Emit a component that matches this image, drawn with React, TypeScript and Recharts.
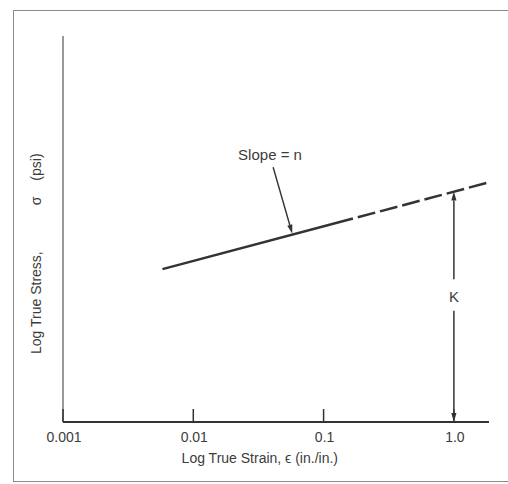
import React from 'react';
import { LineChart, Line, XAxis, YAxis, ReferenceLine, ReferenceDot, Label } from 'recharts';

// ---- data (log-log plot; stress axis in arbitrary log units 0..100) ----
const solidStrain = [0.0058, 0.168];
const solidStress = [39.6, 52.7];
const dashedStrain = [0.168, 1.86];
const dashedStress = [52.7, 62.1];
const xTicks = [0.001, 0.01, 0.1, 1];
const xTickLabels = ['0.001', '0.01', '0.1', '1.0'];
const xDomain = [0.001, 1.86];
const yDomain = [0, 100];

// annotation anchors (data coordinates)
const slopeArrowStrain = [0.041, 0.0575];
const slopeArrowStress = [66, 48.8];
const slopeLabelAt = { x: 0.0388, y: 69.2 };
const kStrain = 1;
const kUpperStress = [37.0, 59.7];
const kLowerStress = [28.8, 0];
const kLabelStress = 32.4;

const solidData = solidStrain.map((x, i) => ({ x, y: solidStress[i] }));
const dashedData = dashedStrain.map((x, i) => ({ x, y: dashedStress[i] }));

const FONT = '"Liberation Sans", Arial, Helvetica, sans-serif';
const INK = '#333';
const TEXT = '#3c3c3c';

const makeArrow = (headLen: number, headW: number, sw: number) => (props: any) => {
  const { x1, y1, x2, y2 } = props;
  const dx = x2 - x1;
  const dy = y2 - y1;
  const len = Math.hypot(dx, dy) || 1;
  const ux = dx / len;
  const uy = dy / len;
  const bx = x2 - ux * headLen;
  const by = y2 - uy * headLen;
  const px = -uy;
  const py = ux;
  return (
    <g>
      <line x1={x1} y1={y1} x2={bx} y2={by} stroke={INK} strokeWidth={sw} />
      <polygon
        points={`${x2},${y2} ${bx + px * headW},${by + py * headW} ${bx - px * headW},${by - py * headW}`}
        fill={INK}
      />
    </g>
  );
};

const XTick = (props: any) => {
  const { x, y, payload } = props;
  const idx = xTicks.indexOf(payload.value);
  const label = idx >= 0 ? xTickLabels[idx] : String(payload.value);
  return (
    <g>
      <line x1={x} y1={y} x2={x} y2={y - 13} stroke={INK} strokeWidth={1.5} />
      <text x={x + 1} y={y + 20} textAnchor="middle" fontFamily={FONT} fontSize={14} fill={TEXT}>
        {label}
      </text>
    </g>
  );
};

const XTitle = (props: any) => {
  const vb = props.viewBox || { x: 63, y: 422, width: 426, height: 40 };
  return (
    <text x={vb.x + vb.width * 0.462} y={vb.y + 41} textAnchor="middle" fontFamily={FONT} fontSize={14} fill={TEXT}>
      Log True Strain, ϵ (in./in.)
    </text>
  );
};

const YTitle = (props: any) => {
  const vb = props.viewBox || { x: 63, y: 36, width: 0, height: 386 };
  const bx = vb.x - 22;
  const by = vb.y + 318;
  return (
    <text transform={`translate(${bx},${by}) rotate(-90)`} x={0} y={0} fontFamily={FONT} fontSize={14} fill={TEXT}>
      <tspan>Log True Stress,</tspan>
      <tspan dx={46}>σ</tspan>
      <tspan dx={16}>(psi)</tspan>
    </text>
  );
};

export default function App() {
  return (
    <div style={{ position: 'absolute', left: 0, top: 0, width: 508, height: 484, background: '#fff', overflow: 'hidden' }}>
      <div
        style={{
          position: 'absolute',
          left: 13,
          top: 10,
          width: 520,
          height: 470,
          borderLeft: '1.5px solid #8a8a8a',
          borderTop: '1.5px solid #8a8a8a',
          borderBottom: '1.5px solid #8a8a8a',
        }}
      />
      <div style={{ position: 'absolute', left: 0, top: 0 }}>
        <LineChart width={508} height={484} margin={{ top: 36, right: 19, bottom: 22, left: 63 }}>
          <XAxis
            type="number"
            dataKey="x"
            scale="log"
            domain={xDomain}
            allowDataOverflow
            ticks={xTicks}
            interval={0}
            height={40}
            tickSize={0}
            tickMargin={0}
            tickLine={false}
            tick={<XTick />}
            axisLine={{ stroke: INK, strokeWidth: 2 }}
          >
            <Label content={<XTitle />} />
          </XAxis>
          <YAxis type="number" domain={yDomain} hide allowDataOverflow />
          <ReferenceLine x={0.001} stroke="#777" strokeWidth={1.5} ifOverflow="visible">
            <Label content={<YTitle />} />
          </ReferenceLine>
          <Line data={solidData} dataKey="y" stroke={INK} strokeWidth={2.5} dot={false} isAnimationActive={false} />
          <Line
            data={dashedData}
            dataKey="y"
            stroke={INK}
            strokeWidth={2.5}
            strokeDasharray="18 5"
            strokeDashoffset={18}
            dot={false}
            isAnimationActive={false}
          />
          <ReferenceLine
            segment={[
              { x: slopeArrowStrain[0], y: slopeArrowStress[0] },
              { x: slopeArrowStrain[1], y: slopeArrowStress[1] },
            ]}
            ifOverflow="visible"
            shape={makeArrow(9, 2.6, 1.4)}
          />
          <ReferenceLine
            segment={[
              { x: kStrain, y: kUpperStress[0] },
              { x: kStrain, y: kUpperStress[1] },
            ]}
            ifOverflow="visible"
            shape={makeArrow(9, 2.6, 1.5)}
          />
          <ReferenceLine
            segment={[
              { x: kStrain, y: kLowerStress[0] },
              { x: kStrain, y: kLowerStress[1] },
            ]}
            ifOverflow="visible"
            shape={makeArrow(9, 2.6, 1.5)}
          />
          <ReferenceDot x={slopeLabelAt.x} y={slopeLabelAt.y} r={0} fill="none" stroke="none" ifOverflow="visible">
            <Label value="Slope = n" position="center" fontFamily={FONT} fontSize={15} fill={TEXT} />
          </ReferenceDot>
          <ReferenceDot x={kStrain} y={kLabelStress} r={0} fill="none" stroke="none" ifOverflow="visible">
            <Label value="K" position="center" fontFamily={FONT} fontSize={15} fill={TEXT} />
          </ReferenceDot>
        </LineChart>
      </div>
    </div>
  );
}
